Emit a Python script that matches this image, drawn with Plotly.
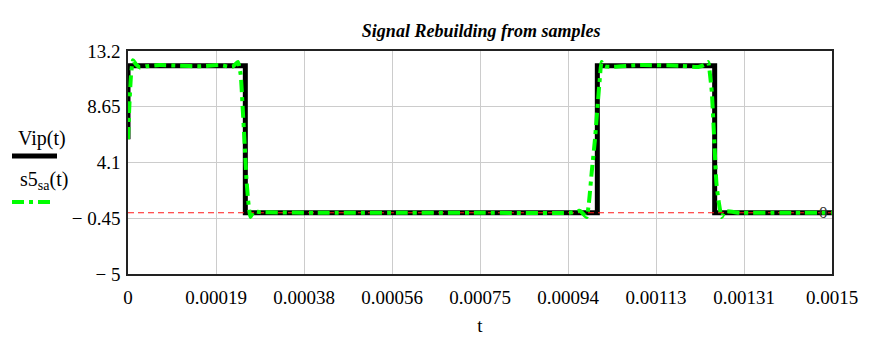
import plotly.graph_objects as go

# Original pulse train Vip(t): 12 V pulses, 0.25 ms wide, period 1 ms
vip_t = [0.0, 0.0, 0.00025, 0.00025, 0.001, 0.001, 0.00125, 0.00125, 0.0015]
vip_v = [6.0, 12.0, 12.0, 0.0, 0.0, 12.0, 12.0, 0.0, 0.0]

# Rebuilt signal s5_sa(t) from samples
s5_t = [0.0, 3.2e-6, 6.4e-6, 1.07e-5, 1.7e-5, 2.56e-5, 3.8e-5, 6.8e-5, 1.1e-4,
        1.53e-4, 1.96e-4, 2.22e-4, 2.34e-4, 2.40e-4, 2.44e-4, 2.48e-4, 2.52e-4,
        2.56e-4, 2.61e-4, 2.68e-4, 2.81e-4, 4.0e-4, 5.8e-4, 7.5e-4, 9.42e-4,
        9.63e-4, 9.77e-4, 9.82e-4, 9.88e-4, 9.95e-4, 1.0011e-3, 1.0054e-3,
        1.009e-3, 1.016e-3, 1.031e-3, 1.091e-3, 1.176e-3, 1.215e-3, 1.227e-3,
        1.236e-3, 1.240e-3, 1.244e-3, 1.249e-3, 1.254e-3, 1.259e-3, 1.265e-3,
        1.272e-3, 1.304e-3, 1.4e-3, 1.5e-3]
s5_v = [6.0, 9.0, 11.2, 12.45, 12.1, 11.85, 11.95, 12.05, 12.0,
        11.95, 12.05, 11.9, 12.3, 11.3, 8.8, 6.0, 3.0,
        1.0, -0.35, 0.1, 0.05, 0.0, 0.0, 0.0, 0.0,
        0.15, -0.35, 0.8, 3.3, 6.0, 9.0, 11.0,
        12.3, 11.95, 11.9, 12.05, 12.0, 11.9, 12.05,
        12.3, 11.3, 9.8, 6.0, 2.3, 0.8, -0.35,
        0.1, 0.0, 0.0, 0.0]

# Horizontal marker at zero
marker_t = [0.0, 0.0015]
marker_v = [0.0, 0.0]

x_ticks = [0.0, 0.0001875, 0.000375, 0.0005625, 0.00075, 0.0009375, 0.001125, 0.0013125, 0.0015]
x_text = ["0", "0.00019", "0.00038", "0.00056", "0.00075", "0.00094", "0.00113", "0.00131", "0.0015"]
y_ticks = [-5.0, -0.45, 4.1, 8.65, 13.2]
y_text = ["\u2212 5", "\u2212 0.45", "4.1", "8.65", "13.2"]

SERIF = "Liberation Serif"
GREEN = "#00ff00"
DASHDOT = "12px,5px,4px,5px"

# Plot area in pixels (used to place the side legend)
W, H = 874, 338
L, R, T, B = 128, 42, 51, 64
PW, PH = W - L - R, H - T - B


def px(x):
    return (x - L) / PW


def py(y):
    return (H - B - y) / PH


fig = go.Figure()
fig.add_trace(go.Scatter(x=vip_t, y=vip_v, mode="lines",
                         line=dict(color="black", width=5), hoverinfo="skip"))
fig.add_trace(go.Scatter(x=marker_t, y=marker_v, mode="lines",
                         line=dict(color="#ff1a1a", width=1.2, dash="6px,4px"), hoverinfo="skip"))
fig.add_trace(go.Scatter(x=s5_t, y=s5_v, mode="lines",
                         line=dict(color=GREEN, width=4, dash=DASHDOT,
                                   shape="spline", smoothing=0.5),
                         hoverinfo="skip"))

fig.update_layout(
    width=W, height=H,
    margin=dict(l=L, r=R, t=T, b=B),
    paper_bgcolor="white", plot_bgcolor="white",
    showlegend=False,
    font=dict(family=SERIF, size=19, color="black"),
    title=dict(text="<b><i>Signal Rebuilding from samples</i></b>",
               x=0.5505, xanchor="center", y=0.91, yanchor="middle",
               font=dict(family=SERIF, size=18, color="black")),
)
fig.update_xaxes(range=[0, 0.0015], tickvals=x_ticks, ticktext=x_text,
                 showgrid=True, gridcolor="#cccccc", gridwidth=1,
                 showline=True, linecolor="#222222", linewidth=1.5, mirror=True,
                 ticks="", ticklabelstandoff=5, zeroline=False, automargin=False,
                 tickfont=dict(family=SERIF, size=19),
                 title=dict(text="t", font=dict(family=SERIF, size=19), standoff=12))
fig.update_yaxes(range=[-5, 13.2], tickvals=y_ticks, ticktext=y_text,
                 showgrid=True, gridcolor="#cccccc", gridwidth=1,
                 showline=True, linecolor="#222222", linewidth=1.5, mirror=True,
                 ticks="", ticklabelstandoff=2, zeroline=False, automargin=False,
                 tickfont=dict(family=SERIF, size=19))

# Marker value label at the right end of the zero line
fig.add_annotation(x=0.0015, y=0, xref="x", yref="y", text="0", showarrow=False,
                   xanchor="right", yanchor="middle", xshift=-2,
                   font=dict(family=SERIF, size=17, color="#333333"))

# Legend drawn at the left of the plot
fig.add_annotation(x=px(42), y=py(138), xref="paper", yref="paper",
                   text="Vip(t)", showarrow=False, xanchor="center", yanchor="middle",
                   font=dict(family=SERIF, size=20))
fig.add_shape(type="line", xref="paper", yref="paper",
              x0=px(12), x1=px(57), y0=py(156), y1=py(156),
              line=dict(color="black", width=5))
fig.add_annotation(x=px(44), y=py(180), xref="paper", yref="paper",
                   text="s5<sub>sa</sub>(t)", showarrow=False, xanchor="center", yanchor="middle",
                   font=dict(family=SERIF, size=20))
fig.add_shape(type="line", xref="paper", yref="paper",
              x0=px(12), x1=px(50), y0=py(202), y1=py(202),
              line=dict(color=GREEN, width=4, dash=DASHDOT))

fig.write_html("out.html")
